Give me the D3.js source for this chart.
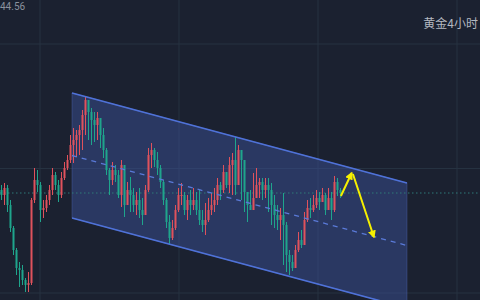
<!DOCTYPE html>
<html><head><meta charset="utf-8">
<script src="https://cdn.jsdelivr.net/npm/d3@7/dist/d3.min.js"></script>
<style>html,body{margin:0;padding:0;background:#1b2130;overflow:hidden}</style>
</head><body><svg id="c" width="480" height="300"></svg>
<script>
// ---- data (price units) ----
const firstOpen = 2610;
const closes = [2605,2612,2595,2572,2550,2532,2530,2520,2515,2517,2600,2620,2615,2590,2592,2600,2610,2625,2615,2605,2622,2632,2640,2655,2660,2665,2670,2685,2700,2688,2680,2675,2682,2665,2650,2630,2620,2630,2625,2605,2635,2595,2610,2605,2595,2600,2590,2585,2610,2645,2650,2640,2632,2618,2600,2578,2562,2572,2590,2605,2605,2590,2600,2595,2600,2590,2580,2575,2580,2590,2595,2600,2615,2610,2628,2615,2635,2640,2615,2650,2640,2608,2595,2590,2602,2615,2618,2610,2615,2610,2595,2585,2580,2585,2575,2545,2538,2532,2550,2560,2555,2580,2592,2590,2595,2602,2598,2605,2590,2602,2590,2618,2610,2607];
const highs  = [2615,2617,2615,2600,2574,2552,2538,2535,2522,2528,2602,2632,2630,2618,2600,2605,2615,2632,2628,2620,2628,2638,2645,2665,2672,2670,2675,2690,2704,2700,2692,2688,2688,2682,2672,2652,2632,2638,2635,2630,2640,2620,2618,2623,2612,2608,2612,2602,2615,2652,2657,2652,2648,2635,2620,2602,2585,2580,2595,2612,2617,2608,2605,2610,2612,2608,2610,2590,2597,2602,2607,2612,2622,2618,2635,2625,2643,2647,2663,2655,2642,2612,2605,2610,2627,2632,2622,2622,2622,2622,2617,2605,2595,2592,2607,2578,2550,2545,2555,2568,2570,2588,2600,2602,2605,2610,2608,2612,2607,2612,2608,2624,2622,2612];
const lows   = [2600,2595,2588,2568,2545,2525,2513,2515,2508,2508,2515,2597,2608,2578,2582,2588,2595,2605,2610,2598,2602,2620,2630,2637,2637,2643,2645,2650,2665,2660,2655,2658,2660,2652,2642,2625,2605,2615,2618,2602,2593,2583,2595,2588,2588,2585,2582,2575,2608,2608,2632,2633,2625,2612,2595,2572,2555,2560,2570,2588,2595,2585,2580,2585,2590,2585,2575,2568,2565,2578,2585,2588,2595,2600,2607,2612,2607,2605,2605,2630,2600,2588,2578,2590,2602,2608,2602,2600,2602,2588,2575,2572,2570,2560,2535,2528,2525,2529,2542,2548,2552,2562,2578,2582,2588,2592,2590,2598,2585,2590,2580,2588,2604,2602];
const gridIdx = [13, 59.33, 105.67, 152];
const gridPrices = [2507, 2631.5, 2756];
const channelTop = [[23.67, 2707], [135.33, 2617]];
const channelBottom = [[23.67, 2582], [135.33, 2492]];
const channelMid = [[23.67, 2644.5], [135.33, 2554.5]];
const arrowUp = [[113.3, 2604], [116.9, 2627]];
const arrowDown = [[117.3, 2626], [124.3, 2563]];
const titleText = "黄金4小时";
const priceLabel = "44.56";

// ---- scales ----
const W = 480, H = 300;
const x = d3.scaleLinear().domain([0, 113]).range([1, 340]);
const y = d3.scaleLinear().domain([2800, 2500]).range([0, 300]);
const svg = d3.select("#c");

svg.append("rect").attr("width", W).attr("height", H).attr("fill", "#1b2130");

// grid
svg.append("g").selectAll("line.v").data(gridIdx).join("line")
  .attr("x1", d => x(d)).attr("x2", d => x(d)).attr("y1", 0).attr("y2", H)
  .attr("stroke", "#263241").attr("stroke-width", 1);
svg.append("g").selectAll("line.h").data(gridPrices).join("line")
  .attr("x1", 0).attr("x2", W).attr("y1", d => y(d)).attr("y2", d => y(d))
  .attr("stroke", "#263241").attr("stroke-width", 1);

// channel fill
const poly = [channelTop[0], channelTop[1], channelBottom[1], channelBottom[0]];
svg.append("path")
  .attr("d", d3.line().x(d => x(d[0])).y(d => y(d[1]))(poly) + "Z")
  .attr("fill", "rgba(62,84,160,0.45)").attr("stroke", "rgba(90,110,190,0.35)").attr("stroke-width", 1);

// last price line
const last = closes[closes.length - 1];
svg.append("line").attr("x1", 0).attr("x2", W).attr("y1", y(last)).attr("y2", y(last))
  .attr("stroke", "#2f7a78").attr("stroke-width", 1).attr("stroke-dasharray", "1.5,2.5");

// candles
const candles = closes.map((c, i) => {
  const o = i === 0 ? firstOpen : closes[i - 1];
  return {i, o, c, h: Math.max(highs[i], o, c), l: Math.min(lows[i], o, c)};
});
const up = "#e0525c", dn = "#1fa58c";
const g = svg.append("g");
g.selectAll("line").data(candles).join("line")
  .attr("x1", d => x(d.i) + 0.5).attr("x2", d => x(d.i) + 0.5)
  .attr("y1", d => y(d.h)).attr("y2", d => y(d.l))
  .attr("stroke", d => d.c >= d.o ? up : dn).attr("stroke-width", 1);
g.selectAll("rect").data(candles).join("rect")
  .attr("x", d => x(d.i) - 0.5).attr("width", 2)
  .attr("y", d => y(Math.max(d.o, d.c)))
  .attr("height", d => Math.max(1, Math.abs(y(d.o) - y(d.c))))
  .attr("fill", d => d.c >= d.o ? up : dn);

// channel lines
const ln = d3.line().x(d => x(d[0])).y(d => y(d[1]));
svg.append("path").attr("d", ln(channelTop)).attr("stroke", "#4f72d8").attr("stroke-width", 1.6).attr("fill", "none");
svg.append("path").attr("d", ln(channelBottom)).attr("stroke", "#4f72d8").attr("stroke-width", 1.6).attr("fill", "none");
svg.append("path").attr("d", ln(channelMid)).attr("stroke", "#5a7ad8").attr("stroke-width", 1.3)
  .attr("stroke-dasharray", "5,5").attr("fill", "none");

// arrows
const defs = svg.append("defs");
defs.append("marker").attr("id", "ah").attr("viewBox", "0 0 10 10").attr("refX", 8).attr("refY", 5)
  .attr("markerWidth", 4).attr("markerHeight", 4).attr("orient", "auto-start-reverse")
  .append("path").attr("d", "M0,0L10,5L0,10Z").attr("fill", "#f5f000");
[arrowUp, arrowDown].forEach(a => {
  svg.append("path").attr("d", ln(a)).attr("stroke", "#f5f000").attr("stroke-width", 2)
    .attr("fill", "none").attr("marker-end", "url(#ah)");
});

// texts
svg.append("text").attr("x", 0).attr("y", 10).attr("font-family", "Roboto, 'Noto Sans', sans-serif")
  .attr("font-size", 10).attr("fill", "#8a909c").text(priceLabel);
svg.append("text").attr("x", 478).attr("y", 28).attr("text-anchor", "end")
  .attr("font-family", "'Noto Sans CJK SC', sans-serif").attr("font-size", 12).attr("fill", "#b4b8c0").text(titleText);
</script></body></html>
